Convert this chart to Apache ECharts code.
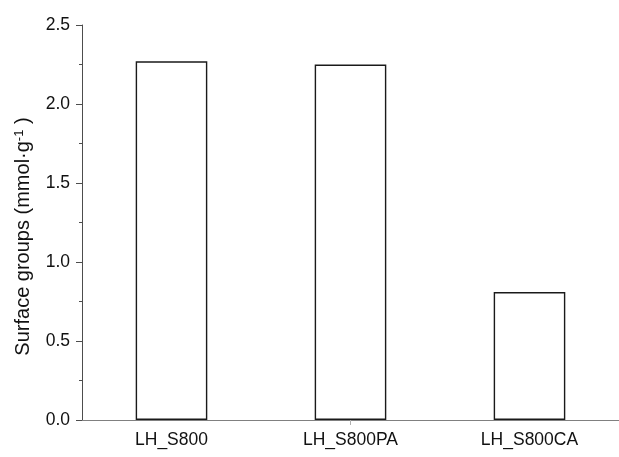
<!DOCTYPE html>
<html>
<head>
<meta charset="utf-8">
<script src="https://cdn.jsdelivr.net/npm/echarts@6/dist/echarts.min.js"></script>
<style>
  html, body { margin: 0; padding: 0; background: #fff; }
  #chart { width: 619px; height: 457px; }
</style>
</head>
<body>
<div id="chart"></div>
<script>
// Surface group content per sample (mmol·g⁻¹)
const samples = ['LH_S800', 'LH_S800PA', 'LH_S800CA'];
const surfaceGroups = [2.27, 2.25, 0.81];
const yTicks = { min: 0, max: 2.5, interval: 0.5 };

const font = '"Liberation Sans", Arial, sans-serif';
const chart = echarts.init(document.getElementById('chart'), null, { renderer: 'canvas' });

chart.setOption({
  backgroundColor: '#ffffff',
  animation: false,
  grid: { left: 82, right: 0, top: 25, bottom: 37 },
  xAxis: {
    type: 'category',
    data: samples,
    boundaryGap: true,
    axisLine: { show: true, lineStyle: { color: '#808080', width: 1 } },
    axisTick: {
      show: true,
      alignWithLabel: true,
      length: 5,
      interval: function (i) { return i === 1; },
      lineStyle: { color: '#b0b0b0' }
    },
    axisLabel: { color: '#111', fontFamily: font, fontSize: 17.5, margin: 11 },
    splitLine: { show: false }
  },
  yAxis: {
    type: 'value',
    min: yTicks.min,
    max: yTicks.max,
    interval: yTicks.interval,
    name: '{n|Surface groups (mmol·g}{s|-1}{n| )}',
    nameLocation: 'middle',
    nameGap: 48,
    nameRotate: 90,
    nameTextStyle: {
      padding: [0, 28, 0, 0],
      rich: {
        n: { fontFamily: font, fontSize: 20, color: '#111' },
        s: { fontFamily: font, fontSize: 13, color: '#111', verticalAlign: 'top', padding: [0, 0, 8, 0] }
      }
    },
    axisLine: { show: true, lineStyle: { color: '#4d4d4d', width: 1 } },
    axisTick: { show: true, inside: false, length: 6, lineStyle: { color: '#4d4d4d' } },
    minorTick: { show: true, splitNumber: 2, length: 3, lineStyle: { color: '#4d4d4d' } },
    axisLabel: {
      color: '#111', fontFamily: font, fontSize: 17.5, margin: 12,
      formatter: function (v) { return v.toFixed(1); }
    },
    splitLine: { show: false }
  },
  series: [{
    type: 'bar',
    data: surfaceGroups,
    barWidth: '40%',
    itemStyle: { color: '#ffffff', borderColor: '#1a1a1a', borderWidth: 1.4 }
  }]
});
</script>
</body>
</html>
